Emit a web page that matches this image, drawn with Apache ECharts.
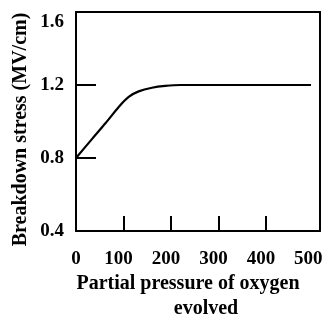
<!DOCTYPE html>
<html>
<head>
<meta charset="utf-8">
<script src="https://cdn.jsdelivr.net/npm/echarts@6/dist/echarts.min.js"></script>
<style>
  html, body { margin: 0; padding: 0; background: #fff; }
  #chart { width: 327px; height: 322px; }
</style>
</head>
<body>
<div id="chart"></div>
<script>
// Partial pressure of oxygen evolved (x) vs breakdown stress in MV/cm (y)
const pressure = [0, 34, 62, 90, 111, 132, 160, 188, 220, 495];
const stress   = [0.80, 0.905, 0.99, 1.08, 1.135, 1.165, 1.185, 1.195, 1.2, 1.2];

const xLabelValues = [0, 100, 200, 300, 400, 500];
const xTickValues  = [100, 200, 300, 400];
const yLabelValues = [0.4, 0.8, 1.2, 1.6];
const yTickValues  = [0.8, 1.2];

const FONT = '"Liberation Serif", "DejaVu Serif", serif';
const INK = '#000';
const TICK_FS = 19;

const chart = echarts.init(document.getElementById('chart'), null, { renderer: 'canvas' });

const frameAxis = {
  axisLine: { show: true, onZero: false, lineStyle: { color: INK, width: 2 } },
  axisTick: { show: false },
  axisLabel: { show: false },
  splitLine: { show: false }
};

chart.setOption({
  animation: false,
  backgroundColor: '#fff',
  grid: { left: 76, right: 7, top: 12, bottom: 91, containLabel: false, outerBoundsMode: 'none' },
  xAxis: [
    {
      type: 'value', min: 0, max: 514, interval: 100, position: 'bottom',
      axisLine: { show: true, onZero: false, lineStyle: { color: INK, width: 2 } },
      axisTick: { show: true, inside: true, length: 15, customValues: xTickValues,
                  lineStyle: { color: INK, width: 2 } },
      axisLabel: {
        customValues: xLabelValues, margin: 19, color: INK,
        fontFamily: FONT, fontWeight: 'bold', fontSize: TICK_FS,
        formatter: v => v === 0 ? '0' : '{s|' + v + '}',
        rich: { s: { fontFamily: FONT, fontWeight: 'bold', fontSize: TICK_FS, color: INK, padding: [0, 10, 0, 0] } }
      },
      splitLine: { show: false },
      name: '{a|Partial pressure of oxygen}\n{b|evolved}',
      nameLocation: 'middle', nameGap: 40, nameMoveOverlap: false,
      nameTextStyle: {
        color: INK, fontFamily: FONT, fontWeight: 'bold', fontSize: 20, lineHeight: 25,
        rich: {
          a: { fontFamily: FONT, fontWeight: 'bold', fontSize: 20, lineHeight: 25, color: INK, padding: [0, 20, 0, 0] },
          b: { fontFamily: FONT, fontWeight: 'bold', fontSize: 20, lineHeight: 25, color: INK, padding: [0, 0, 0, 16] }
        }
      }
    },
    Object.assign({ type: 'value', min: 0, max: 514, position: 'top' }, frameAxis)
  ],
  yAxis: [
    {
      type: 'value', min: 0.4, max: 1.6, interval: 0.4, position: 'left',
      axisLine: { show: true, onZero: false, lineStyle: { color: INK, width: 2 } },
      axisTick: { show: true, inside: true, length: 20, customValues: yTickValues,
                  lineStyle: { color: INK, width: 2 } },
      axisLabel: {
        customValues: yLabelValues, margin: 12, color: INK,
        fontFamily: FONT, fontWeight: 'bold', fontSize: TICK_FS,
        formatter: v => Math.abs(v - 1.6) < 1e-6 ? '{t|1.6}' : v.toFixed(1),
        rich: { t: { fontFamily: FONT, fontWeight: 'bold', fontSize: TICK_FS, color: INK, padding: [20, 0, 0, 0] } }
      },
      splitLine: { show: false },
      name: 'Breakdown stress (MV/cm)',
      nameLocation: 'middle', nameGap: 45, nameMoveOverlap: false,
      nameTextStyle: { color: INK, fontFamily: FONT, fontWeight: 'bold', fontSize: 20, padding: [0, 16, 0, 0] }
    },
    Object.assign({ type: 'value', min: 0.4, max: 1.6, position: 'right' }, frameAxis)
  ],
  series: [
    {
      type: 'line',
      data: pressure.map((p, i) => [p, stress[i]]),
      smooth: 0.3,
      showSymbol: false,
      lineStyle: { color: INK, width: 2.2 },
      xAxisIndex: 0, yAxisIndex: 0
    }
  ]
});
</script>
</body>
</html>
